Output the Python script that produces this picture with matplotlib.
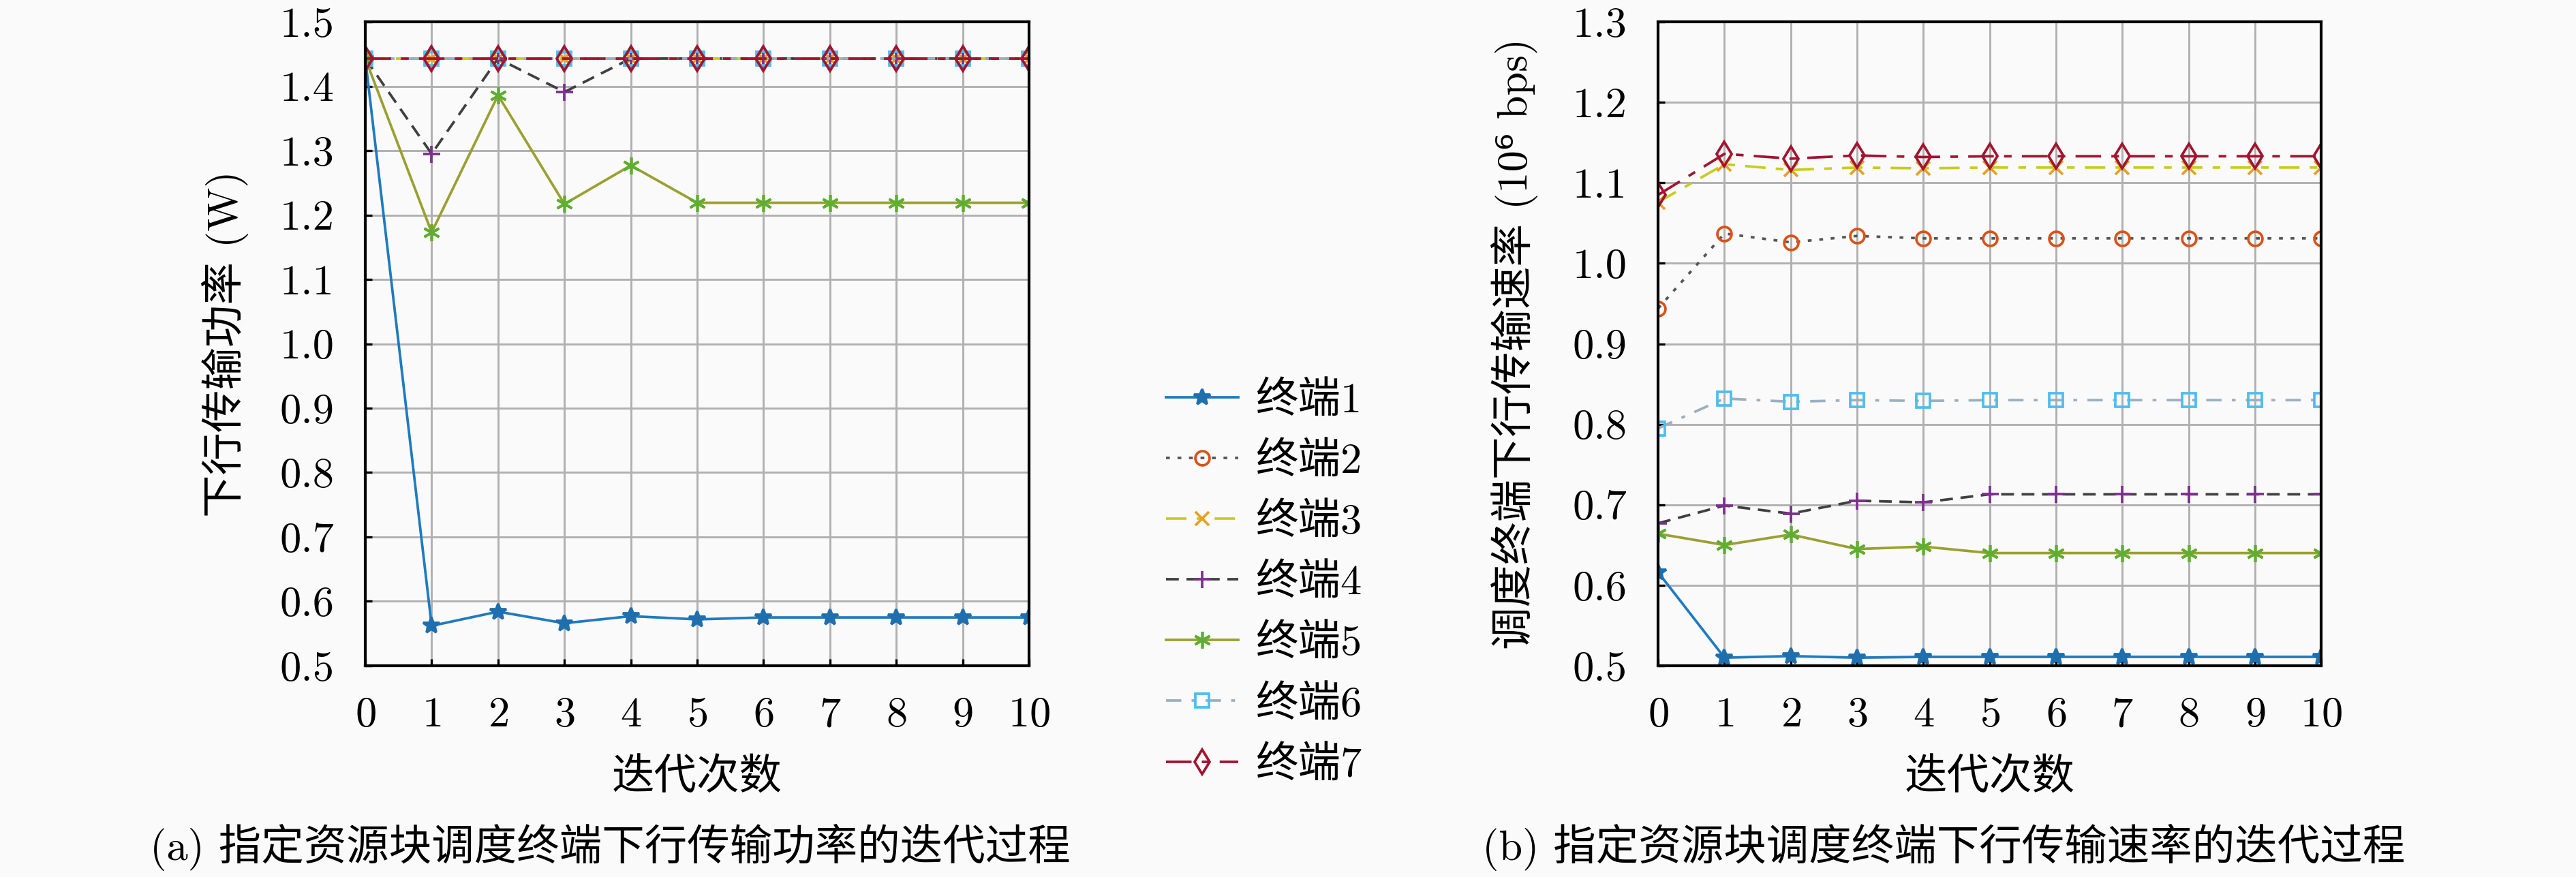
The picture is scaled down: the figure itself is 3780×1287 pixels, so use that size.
import numpy as np
import matplotlib
matplotlib.use("Agg")
import matplotlib.pyplot as plt

plt.rcParams['font.family'] = ['cmr10', 'Noto Sans CJK SC', 'DejaVu Sans']
plt.rcParams['mathtext.fontset'] = 'cm'
plt.rcParams['axes.formatter.use_mathtext'] = True

iters = np.arange(11)
labels = ['终端1', '终端2', '终端3', '终端4', '终端5', '终端6', '终端7']

# (a) downlink transmit power (W)
power = [
    [1.443, 0.562, 0.584, 0.566, 0.577, 0.572, 0.575, 0.575, 0.575, 0.575, 0.575],
    [1.443] * 11,
    [1.443] * 11,
    [1.443, 1.295, 1.443, 1.391, 1.443, 1.443, 1.443, 1.443, 1.443, 1.443, 1.443],
    [1.443, 1.173, 1.386, 1.217, 1.277, 1.219, 1.219, 1.219, 1.219, 1.219, 1.219],
    [1.443] * 11,
    [1.443] * 11,
]

# (b) downlink rate (10^6 bps)
rate = [
    [0.616, 0.510, 0.512, 0.510, 0.511, 0.511, 0.511, 0.511, 0.511, 0.511, 0.511],
    [0.944, 1.037, 1.026, 1.034, 1.031, 1.031, 1.031, 1.031, 1.031, 1.031, 1.031],
    [1.076, 1.123, 1.116, 1.119, 1.118, 1.119, 1.119, 1.119, 1.119, 1.119, 1.119],
    [0.677, 0.699, 0.689, 0.705, 0.703, 0.713, 0.713, 0.713, 0.713, 0.713, 0.713],
    [0.664, 0.650, 0.663, 0.645, 0.648, 0.640, 0.640, 0.640, 0.640, 0.640, 0.640],
    [0.795, 0.832, 0.828, 0.830, 0.829, 0.830, 0.830, 0.830, 0.830, 0.830, 0.830],
    [1.085, 1.136, 1.130, 1.134, 1.132, 1.133, 1.133, 1.133, 1.133, 1.133, 1.133],
]

styles = [
    dict(color='#1f7bbf', ls='-', marker='*', mfc='#1f6fae', mec='#1f6fae', ms=6),
    dict(color='#555555', ls=(0, (1.5, 3)), marker='o', mfc='none', mec='#d95319', ms=5),
    dict(color='#c8cc20', ls=(0, (8, 4, 3, 4)), marker='x', mfc='none', mec='#e8a020', ms=5),
    dict(color='#404040', ls=(0, (5, 3)), marker='+', mfc='none', mec='#7e2f8e', ms=6),
    dict(color='#9aa032', ls='-', marker=(6, 2, 0), mfc='none', mec='#5fae30', ms=6),
    dict(color='#9ab0c0', ls=(0, (6, 4, 1.5, 4)), marker='s', mfc='none', mec='#4dbeee', ms=5),
    dict(color='#a2142f', ls=(0, (10, 4, 3, 4)), marker='d', mfc='none', mec='#a2142f', ms=6),
]

fig = plt.figure(figsize=(12.6, 4.29), dpi=300, facecolor='#fafafa')
ax1 = fig.add_axes([0.1418, 0.2409, 0.2577, 0.7342])
ax2 = fig.add_axes([0.6437, 0.2409, 0.2574, 0.7342])

handles = []
for data, st, lab in zip(power, styles, labels):
    h, = ax1.plot(iters, data, lw=0.9, mew=0.9, label=lab, **st)
    handles.append(h)
for data, st in zip(rate, styles):
    ax2.plot(iters, data, lw=0.9, mew=0.9, **st)

for ax, ylo, yhi in [(ax1, 0.5, 1.5), (ax2, 0.5, 1.3)]:
    ax.set_facecolor('#fafafa')
    ax.set_xlim(0, 10)
    ax.set_ylim(ylo, yhi)
    ax.set_xticks(iters)
    ax.set_yticks(np.round(np.arange(ylo, yhi + 0.001, 0.1), 1))
    ax.yaxis.set_major_formatter(matplotlib.ticker.FormatStrFormatter('%.1f'))
    ax.grid(True, color='#b0b0b0', lw=0.7)
    ax.set_axisbelow(True)
    ax.tick_params(direction='in', length=2.5, width=0.8, labelsize=15, pad=11,
                   top=False, right=False)
    for sp in ax.spines.values():
        sp.set_linewidth(1.0)
    ax.set_xlabel('迭代次数', fontsize=15)
    ax.xaxis.set_label_coords(0.5, -0.143)

ax1.set_ylabel('下行传输功率 (W)', fontsize=15)
ax1.yaxis.set_label_coords(-0.176, 0.5)
ax2.set_ylabel('调度终端下行传输速率 (10⁶ bps)', fontsize=15)
ax2.yaxis.set_label_coords(-0.181, 0.5)

fig.legend(handles=handles, loc='center left', bbox_to_anchor=(1711 / 3780, 1 - 855 / 1287),
           frameon=False, fontsize=15, handlelength=1.7, handletextpad=0.4,
           labelspacing=0.5, borderpad=0, borderaxespad=0)

fig.text(0.237, 0.034, '(a) 指定资源块调度终端下行传输功率的迭代过程', ha='center', va='center', fontsize=15)
fig.text(0.7545, 0.034, '(b) 指定资源块调度终端下行传输速率的迭代过程', ha='center', va='center', fontsize=15)

fig.savefig('out.png', dpi=300, facecolor=fig.get_facecolor())
